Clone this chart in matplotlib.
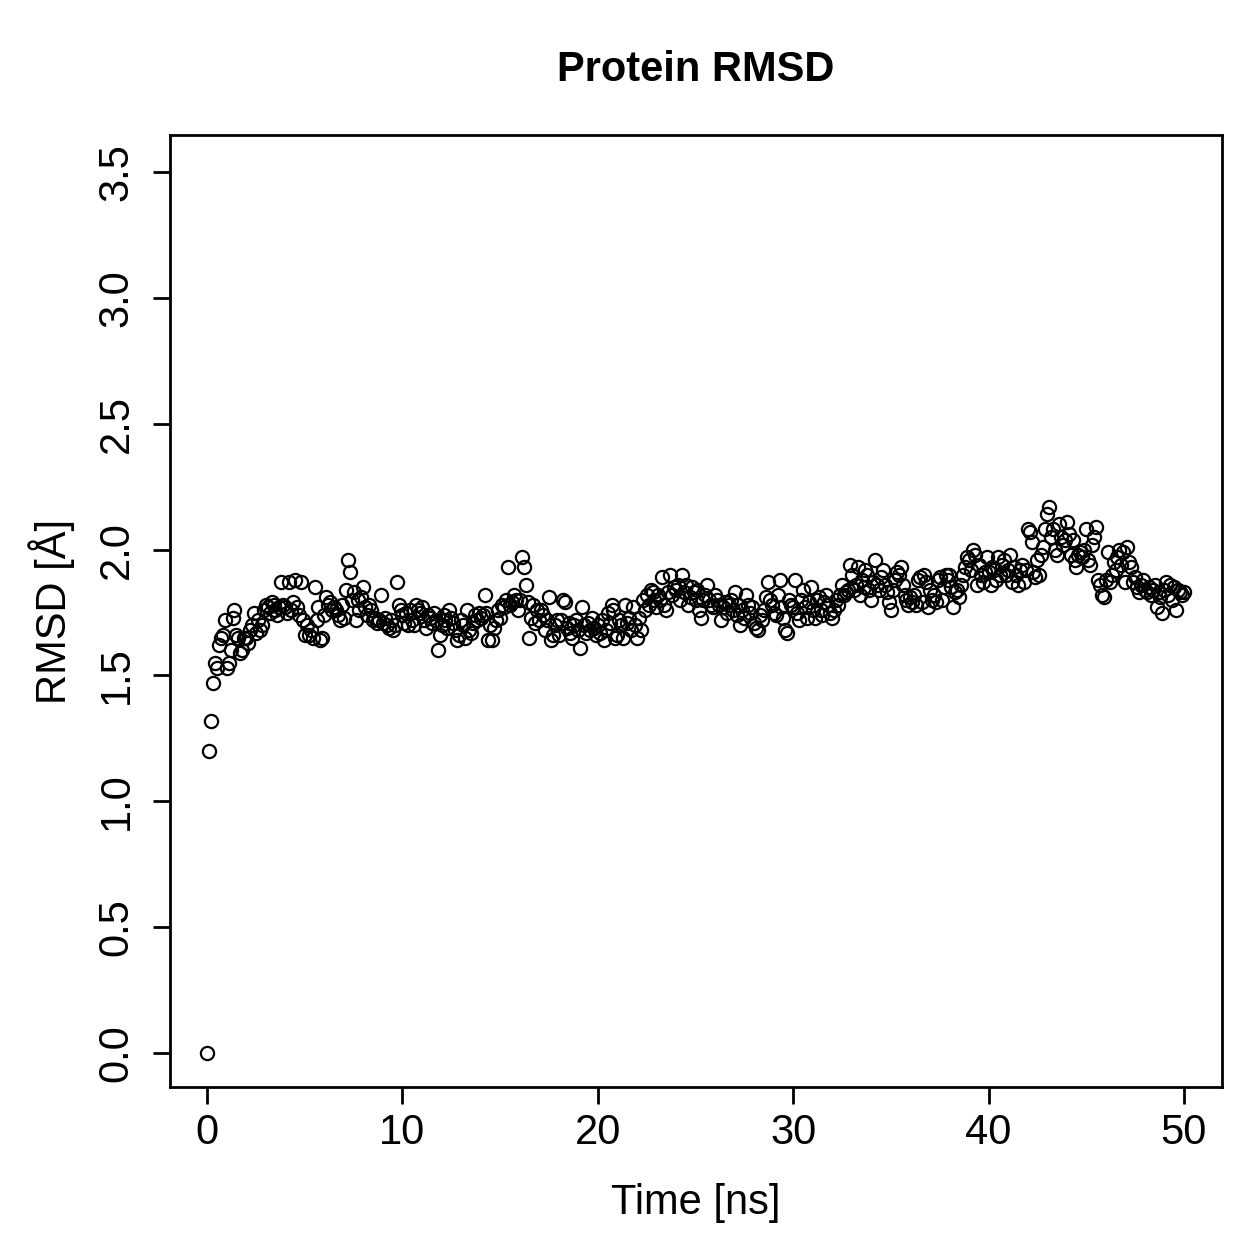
import numpy as np
import matplotlib
matplotlib.use("Agg")
import matplotlib.pyplot as plt

plt.rcParams['font.family'] = ['Liberation Sans', 'DejaVu Sans']

# RMSD values, one frame every 0.1 ns
rmsd = [
    0.00, 1.20, 1.32, 1.47, 1.55, 1.53, 1.62, 1.65, 1.66, 1.72,
    1.53, 1.55, 1.60, 1.73, 1.76, 1.66, 1.65, 1.59, 1.60, 1.65,
    1.65, 1.63, 1.68, 1.70, 1.75, 1.67, 1.72, 1.68, 1.70, 1.76,
    1.78, 1.77, 1.75, 1.79, 1.78, 1.76, 1.74, 1.77, 1.87, 1.78,
    1.77, 1.75, 1.87, 1.76, 1.79, 1.88, 1.77, 1.74, 1.87, 1.72,
    1.66, 1.70, 1.66, 1.68, 1.65, 1.85, 1.72, 1.77, 1.64, 1.65,
    1.74, 1.81, 1.78, 1.79, 1.76, 1.77, 1.76, 1.74, 1.72, 1.78,
    1.73, 1.84, 1.96, 1.91, 1.80, 1.83, 1.72, 1.80, 1.76, 1.81,
    1.85, 1.77, 1.74, 1.78, 1.76, 1.72, 1.73, 1.71, 1.72, 1.82,
    1.71, 1.73, 1.70, 1.69, 1.72, 1.68, 1.70, 1.87, 1.78, 1.76,
    1.74, 1.71, 1.75, 1.70, 1.76, 1.72, 1.70, 1.78, 1.76, 1.75,
    1.77, 1.72, 1.69, 1.74, 1.73, 1.71, 1.75, 1.72, 1.60, 1.66,
    1.70, 1.74, 1.72, 1.69, 1.76, 1.73, 1.71, 1.68, 1.64, 1.66,
    1.72, 1.70, 1.65, 1.76, 1.68, 1.67, 1.71, 1.74, 1.72, 1.75,
    1.73, 1.74, 1.82, 1.75, 1.64, 1.70, 1.64, 1.69, 1.72, 1.76,
    1.73, 1.78, 1.77, 1.80, 1.93, 1.78, 1.79, 1.82, 1.80, 1.76,
    1.80, 1.97, 1.93, 1.86, 1.79, 1.65, 1.73, 1.78, 1.71, 1.76,
    1.72, 1.76, 1.74, 1.68, 1.72, 1.81, 1.64, 1.66, 1.70, 1.72,
    1.66, 1.72, 1.80, 1.79, 1.69, 1.71, 1.67, 1.65, 1.70, 1.72,
    1.68, 1.61, 1.77, 1.70, 1.67, 1.71, 1.68, 1.73, 1.69, 1.66,
    1.70, 1.67, 1.72, 1.64, 1.68, 1.75, 1.71, 1.78, 1.76, 1.65,
    1.66, 1.72, 1.70, 1.65, 1.78, 1.71, 1.73, 1.68, 1.77, 1.70,
    1.65, 1.73, 1.68, 1.80, 1.76, 1.82, 1.78, 1.84, 1.83, 1.80,
    1.77, 1.82, 1.80, 1.89, 1.78, 1.76, 1.83, 1.90, 1.82, 1.85,
    1.84, 1.86, 1.80, 1.90, 1.83, 1.86, 1.78, 1.81, 1.85, 1.83,
    1.80, 1.84, 1.76, 1.73, 1.80, 1.82, 1.86, 1.80, 1.78, 1.77,
    1.82, 1.80, 1.78, 1.72, 1.77, 1.79, 1.75, 1.78, 1.80, 1.76,
    1.83, 1.74, 1.78, 1.70, 1.76, 1.73, 1.82, 1.78, 1.75, 1.77,
    1.71, 1.69, 1.68, 1.74, 1.72, 1.76, 1.81, 1.87, 1.80, 1.78,
    1.75, 1.74, 1.82, 1.88, 1.77, 1.73, 1.68, 1.67, 1.80, 1.78,
    1.77, 1.88, 1.75, 1.72, 1.80, 1.84, 1.77, 1.73, 1.79, 1.85,
    1.76, 1.73, 1.80, 1.81, 1.76, 1.74, 1.79, 1.82, 1.78, 1.75,
    1.73, 1.76, 1.80, 1.78, 1.82, 1.86, 1.82, 1.83, 1.84, 1.94,
    1.90, 1.84, 1.86, 1.93, 1.82, 1.88, 1.85, 1.92, 1.90, 1.84,
    1.80, 1.87, 1.96, 1.86, 1.84, 1.89, 1.92, 1.86, 1.83, 1.79,
    1.76, 1.84, 1.88, 1.91, 1.90, 1.93, 1.86, 1.82, 1.80, 1.78,
    1.81, 1.79, 1.82, 1.78, 1.88, 1.89, 1.79, 1.90, 1.87, 1.77,
    1.84, 1.80, 1.82, 1.79, 1.88, 1.89, 1.80, 1.85, 1.90, 1.88,
    1.90, 1.85, 1.77, 1.83, 1.84, 1.81, 1.86, 1.90, 1.93, 1.97,
    1.96, 1.92, 2.00, 1.98, 1.86, 1.94, 1.90, 1.87, 1.91, 1.97,
    1.91, 1.86, 1.93, 1.92, 1.88, 1.97, 1.90, 1.94, 1.96, 1.90,
    1.92, 1.98, 1.87, 1.93, 1.90, 1.86, 1.92, 1.94, 1.87, 1.92,
    2.08, 2.07, 2.03, 1.91, 1.89, 1.96, 1.90, 1.98, 2.01, 2.08,
    2.14, 2.17, 2.05, 2.08, 2.00, 1.98, 2.10, 2.05, 2.02, 2.04,
    2.11, 2.06, 1.98, 2.04, 1.96, 1.93, 1.98, 1.99, 1.97, 2.00,
    2.08, 1.96, 1.94, 2.02, 2.05, 2.09, 1.88, 1.86, 1.82, 1.81,
    1.88, 1.99, 1.87, 1.90, 1.95, 1.92, 1.97, 2.00, 1.94, 1.99,
    1.87, 2.01, 1.95, 1.93, 1.87, 1.89, 1.85, 1.83, 1.86, 1.88,
    1.84, 1.83, 1.85, 1.82, 1.84, 1.86, 1.77, 1.83, 1.81, 1.75,
    1.84, 1.87, 1.82, 1.86, 1.80, 1.85, 1.76, 1.84, 1.83, 1.82,
    1.83,
]
time_ns = np.arange(len(rmsd)) * 0.1

x_ticks = [0, 10, 20, 30, 40, 50]
y_ticks = [0.0, 0.5, 1.0, 1.5, 2.0, 2.5, 3.0, 3.5]

W = 1259
fig = plt.figure(figsize=(12.59, 12.59), dpi=100)
ax = fig.add_axes([170 / W, 1 - 1087 / W, (1222 - 170) / W, (1087 - 135) / W])

ax.plot(time_ns, rmsd, linestyle='none', marker='o', markersize=9.5,
        markerfacecolor='none', markeredgecolor='black', markeredgewidth=1.6)

ax.set_xlim(-1.9, 51.95)
ax.set_ylim(-0.135, 3.647)
ax.set_xticks(x_ticks)
ax.set_xticklabels([str(t) for t in x_ticks])
ax.set_yticks(y_ticks)
ax.set_yticklabels(['%.1f' % v for v in y_ticks], rotation=90, va='center')

for s in ax.spines.values():
    s.set_linewidth(2.0)
ax.tick_params(axis='both', length=12, width=2.0, labelsize=30, direction='out')
ax.tick_params(axis='x', pad=7)
ax.tick_params(axis='y', pad=12)

fig.text(696 / W, 1 - 70 / W, 'Protein RMSD', ha='center', va='center',
         fontsize=30, fontweight='bold')
fig.text(696 / W, 1 - 1203 / W, 'Time [ns]', ha='center', va='center', fontsize=30)
fig.text(52 / W, 1 - 611 / W, 'RMSD [Å]', ha='center', va='center',
         rotation=90, fontsize=30)

fig.savefig('out.png', dpi=100)
